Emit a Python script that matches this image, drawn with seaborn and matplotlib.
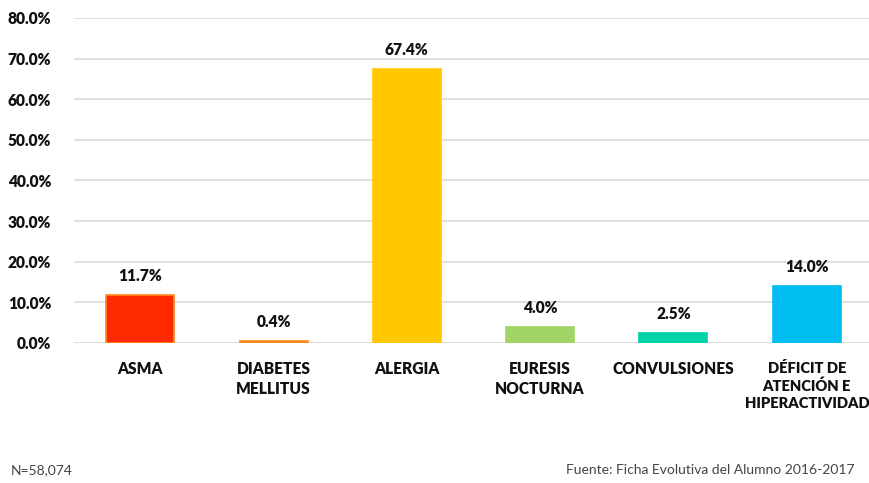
import matplotlib.pyplot as plt
import pandas as pd
import seaborn as sns

CATEGORIES = ["ASMA", "DIABETES\nMELLITUS", "ALERGIA", "EURESIS\nNOCTURNA",
              "CONVULSIONES", "DÉFICIT DE\nATENCIÓN E\nHIPERACTIVIDAD"]
VALUES = [11.7, 0.4, 67.4, 4.0, 2.5, 14.0]
COLORS = ["#FF2A00", "#FF8A1C", "#FFC800", "#A2D465", "#00D2A8", "#00BDF2"]
EDGES = ["#FF8A1C", "#FF8A1C", "#FFC800", "#A2D465", "#00D2A8", "#00BDF2"]

sns.set_theme(style="white")
plt.rcParams["font.family"] = ["Lato", "DejaVu Sans"]

df = pd.DataFrame({"cat": CATEGORIES, "val": VALUES})

fig = plt.figure(figsize=(8.7, 4.83), dpi=100)
ax = fig.add_axes([0.0845, 0.29, 0.9195, 0.673])
sns.barplot(data=df, x="cat", y="val", hue="cat", palette=COLORS, width=0.51,
            legend=False, ax=ax, saturation=1)
for patch, ec in zip(ax.patches, EDGES):
    patch.set_edgecolor(ec)
    patch.set_linewidth(1.2)

FS = 11.2
ax.set_ylim(0, 80)
ax.set_yticks(range(0, 81, 10))
ax.set_yticklabels([f"{t:.1f}%" for t in range(0, 81, 10)], fontweight="heavy",
                   fontsize=FS, color="#111111")
ax.set_xticks(range(len(CATEGORIES)))
labels = ax.set_xticklabels(CATEGORIES, fontweight="heavy", fontsize=FS,
                            color="#111111", linespacing=1.3, va="top")
labels[-1].set_fontsize(10.6)
ax.tick_params(axis="x", pad=13, length=0)
ax.tick_params(axis="y", pad=16, length=0)
ax.grid(axis="y", color="#d9d9d9", linewidth=1.2)
ax.set_axisbelow(True)
for s in ax.spines.values():
    s.set_visible(False)
ax.set_xlabel("")
ax.set_ylabel("")

for i, v in enumerate(VALUES):
    ax.annotate(f"{v:.1f}%", (i, v), xytext=(0, 8), textcoords="offset points",
                ha="center", va="bottom", fontweight="heavy", fontsize=FS,
                color="#111111")

fig.text(0.012, 0.018, "N=58,074", fontsize=10, color="#444444")
fig.text(0.651, 0.018, "Fuente: Ficha Evolutiva del Alumno 2016-2017", fontsize=10,
         color="#444444")

fig.savefig("out.png", dpi=100)
